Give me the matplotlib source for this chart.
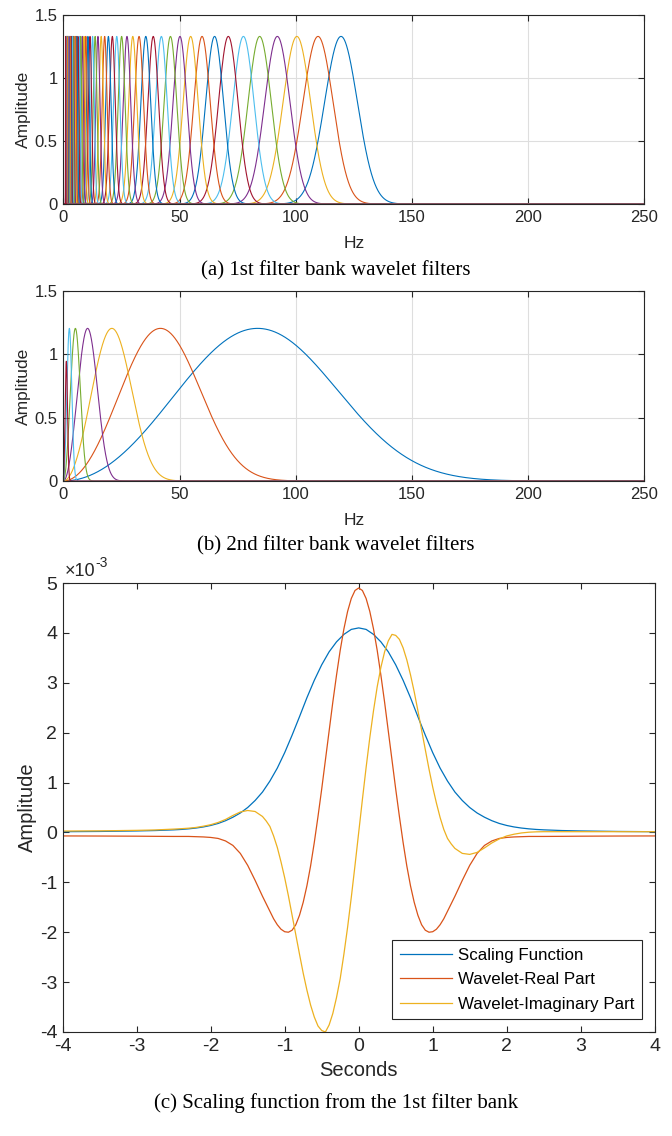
import matplotlib
matplotlib.use("Agg")
import matplotlib.pyplot as plt
import numpy as np

plt.rcParams["font.family"] = ["Liberation Sans", "DejaVu Sans"]
plt.rcParams["axes.unicode_minus"] = False

# MATLAB default colour order
colours = ["#0072BD", "#D95319", "#EDB120", "#7E2F8E", "#77AC30", "#4DBEEE", "#A2142F"]
dark = "#262626"

# (a) 1st filter bank: centre frequencies (Hz), high to low, 8 voices per octave
bank1_centres = [119.5, 109.6, 100.5, 92.1, 84.5, 77.5, 71.0, 65.1, 59.7, 54.8,
                 50.2, 46.1, 42.2, 38.7, 35.5, 32.6, 29.9, 27.4, 25.1, 23.0,
                 21.1, 19.4, 17.8, 16.3, 14.9, 13.7, 12.6, 11.5, 10.6, 9.7,
                 8.9, 8.16, 7.48, 6.86, 6.29, 5.77, 5.29, 4.85, 4.45, 4.08,
                 3.74, 3.43, 3.15, 2.89, 2.65, 2.43, 2.22, 2.04, 1.87, 1.71,
                 1.57, 1.44, 1.32, 1.21, 1.11, 1.02]
bank1_peak = 1.33

# (b) 2nd filter bank: one voice per octave
bank2_centres = [83.6, 41.8, 20.9, 10.45, 5.2, 2.6, 1.3]
bank2_peaks = [1.205, 1.205, 1.205, 1.205, 1.205, 1.205, 0.945]

# (c) time-domain functions, amplitude in units of 1e-3
t_scaling = [-4, -3.5, -3, -2.75, -2.5, -2.4, -2.3, -2.2, -2.1, -2.0, -1.9, -1.8, -1.7,
             -1.6, -1.5, -1.4, -1.3, -1.2, -1.1, -1.0, -0.9, -0.8, -0.7, -0.6, -0.5,
             -0.4, -0.3, -0.2, -0.1, 0.0, 0.1, 0.2, 0.3, 0.4, 0.5, 0.6, 0.7, 0.8, 0.9,
             1.0, 1.1, 1.2, 1.3, 1.4, 1.5, 1.6, 1.7, 1.8, 1.9, 2.0, 2.1, 2.2, 2.3, 2.4,
             2.5, 2.75, 3, 3.5, 4]
scaling_e3 = [0.015, 0.02, 0.03, 0.038, 0.052, 0.06, 0.072, 0.088, 0.11, 0.14, 0.18,
              0.235, 0.305, 0.39, 0.50, 0.64, 0.81, 1.03, 1.29, 1.60, 1.95, 2.32, 2.70,
              3.05, 3.36, 3.62, 3.82, 3.97, 4.07, 4.10, 4.07, 3.97, 3.82, 3.62, 3.36,
              3.05, 2.70, 2.32, 1.95, 1.60, 1.29, 1.03, 0.81, 0.64, 0.50, 0.39, 0.305,
              0.235, 0.18, 0.14, 0.11, 0.088, 0.072, 0.06, 0.052, 0.038, 0.03, 0.02, 0.015]

t_wavelet = [-4, -3.5, -3, -2.75, -2.5, -2.4, -2.3, -2.2, -2.1, -2.0, -1.9, -1.8, -1.7,
             -1.6, -1.5, -1.4, -1.3, -1.25, -1.2, -1.15, -1.1, -1.05, -1.0, -0.95, -0.9,
             -0.85, -0.8, -0.75, -0.7, -0.65, -0.6, -0.55, -0.5, -0.45, -0.4, -0.35, -0.3,
             -0.25, -0.2, -0.15, -0.1, -0.05, 0.0, 0.05, 0.1, 0.15, 0.2, 0.25, 0.3, 0.35,
             0.4, 0.45, 0.5, 0.55, 0.6, 0.65, 0.7, 0.75, 0.8, 0.85, 0.9, 0.95, 1.0, 1.05,
             1.1, 1.15, 1.2, 1.25, 1.3, 1.4, 1.5, 1.6, 1.7, 1.8, 1.9, 2.0, 2.1, 2.2, 2.3,
             2.4, 2.5, 2.75, 3, 3.5, 4]
real_e3 = [-0.07, -0.072, -0.075, -0.078, -0.08, -0.08, -0.08, -0.085, -0.09, -0.10,
           -0.12, -0.17, -0.26, -0.42, -0.66, -0.96, -1.28, -1.43, -1.58, -1.73, -1.85,
           -1.94, -1.99, -2.00, -1.96, -1.85, -1.66, -1.40, -1.07, -0.67, -0.20, 0.32,
           0.87, 1.45, 2.03, 2.61, 3.15, 3.65, 4.08, 4.43, 4.69, 4.85, 4.90, 4.85, 4.69,
           4.43, 4.08, 3.65, 3.15, 2.61, 2.03, 1.45, 0.87, 0.32, -0.20, -0.67, -1.07,
           -1.40, -1.66, -1.85, -1.96, -2.00, -1.99, -1.94, -1.85, -1.73, -1.58, -1.43,
           -1.28, -0.96, -0.66, -0.42, -0.26, -0.17, -0.12, -0.10, -0.09, -0.085, -0.08,
           -0.08, -0.08, -0.078, -0.075, -0.072, -0.07]
imag_e3 = [0.028, 0.032, 0.042, 0.05, 0.067, 0.075, 0.085, 0.10, 0.125, 0.155, 0.20,
           0.26, 0.34, 0.41, 0.44, 0.42, 0.32, 0.23, 0.12, -0.07, -0.30, -0.59, -0.91,
           -1.27, -1.66, -2.05, -2.44, -2.82, -3.16, -3.46, -3.70, -3.88, -3.97, -4.00,
           -3.86, -3.63, -3.31, -2.93, -2.44, -1.90, -1.30, -0.66, 0.0, 0.66, 1.30, 1.90,
           2.44, 2.92, 3.31, 3.62, 3.84, 3.97, 3.95, 3.87, 3.70, 3.46, 3.16, 2.82, 2.44,
           2.05, 1.66, 1.27, 0.91, 0.59, 0.30, 0.06, -0.12, -0.23, -0.32, -0.42, -0.44,
           -0.40, -0.31, -0.21, -0.13, -0.07, -0.035, -0.01, 0.005, 0.012, 0.015, 0.015,
           0.015, 0.015, 0.015]
legend_labels = ["Scaling Function", "Wavelet-Real Part", "Wavelet-Imaginary Part"]


def morse(f, fc, peak, beta, gamma):
    r = f / fc
    return peak * np.exp(beta * np.log(r) + (beta / gamma) * (1 - r ** gamma))


def style(ax, size, grid):
    for sp in ax.spines.values():
        sp.set_color(dark)
        sp.set_linewidth(0.8)
    ax.tick_params(direction="in", top=True, right=True, length=4.5, width=0.8,
                   colors=dark, labelsize=size, pad=4)
    if grid:
        ax.grid(True, color="#dedede", lw=0.8)
        ax.set_axisbelow(True)


freq = np.linspace(0.001, 250, 25000)

fig = plt.figure(figsize=(6.72, 11.36), dpi=100)
ax1 = fig.add_axes([63.3 / 672, 1 - 204 / 1136, 581 / 672, 189 / 1136])
ax2 = fig.add_axes([63.3 / 672, 1 - 481 / 1136, 581 / 672, 190 / 1136])
ax3 = fig.add_axes([62.7 / 672, 1 - 1032 / 1136, 592 / 672, 449 / 1136])

for i, fc in enumerate(bank1_centres):
    ax1.plot(freq, morse(freq, fc, bank1_peak, 95, 3), color=colours[i % 7], lw=0.8)
for i, (fc, pk) in enumerate(zip(bank2_centres, bank2_peaks)):
    ax2.plot(freq, morse(freq, fc, pk, 2, 3), color=colours[i % 7], lw=0.8)

for ax in (ax1, ax2):
    ax.set_xlim(0, 250)
    ax.set_ylim(0, 1.5)
    ax.set_xticks([0, 50, 100, 150, 200, 250])
    ax.set_yticks([0, 0.5, 1, 1.5])
    ax.set_yticklabels(["0", "0.5", "1", "1.5"])
    style(ax, 12, True)
    ax.set_xlabel("Hz", fontsize=12.5, color=dark, labelpad=8)
    ax.set_ylabel("Amplitude", fontsize=12.5, color=dark, labelpad=3)

ax3.plot(t_scaling, scaling_e3, color=colours[0], lw=0.9, label=legend_labels[0])
ax3.plot(t_wavelet, real_e3, color=colours[1], lw=0.9, label=legend_labels[1])
ax3.plot(t_wavelet, imag_e3, color=colours[2], lw=0.9, label=legend_labels[2])
ax3.set_xlim(-4, 4)
ax3.set_ylim(-4, 5)
ax3.set_xticks(range(-4, 5))
ax3.set_yticks(range(-4, 6))
style(ax3, 14, False)
ax3.set_xlabel("Seconds", fontsize=14.5, color=dark, labelpad=5)
ax3.set_ylabel("Amplitude", fontsize=14.5, color=dark, labelpad=2)

# exponent label, MATLAB style
base = ax3.text(0.003, 1.006, "\u00d710", transform=ax3.transAxes,
                fontsize=13, color=dark, ha="left", va="bottom")
ax3.annotate("-3", xy=(1.0, 0.62), xycoords=base, fontsize=10, color=dark,
             ha="left", va="bottom")

leg = ax3.legend(loc="lower right", fontsize=12.2, fancybox=False, framealpha=1,
                 edgecolor=dark, handlelength=3.1, labelspacing=0.55,
                 borderaxespad=0.75, handletextpad=0.35, borderpad=0.45)
leg.get_frame().set_linewidth(0.8)

cap = dict(ha="center", va="center", fontsize=15, family="Liberation Serif", color="black")
fig.text(0.5, 1 - 271 / 1136, "(a) 1st filter bank wavelet filters", **cap)
fig.text(0.5, 1 - 546 / 1136, "(b) 2nd filter bank wavelet filters", **cap)
fig.text(0.5, 1 - 1103 / 1136, "(c) Scaling function from the 1st filter bank", **cap)

fig.savefig("out.png", dpi=100)
